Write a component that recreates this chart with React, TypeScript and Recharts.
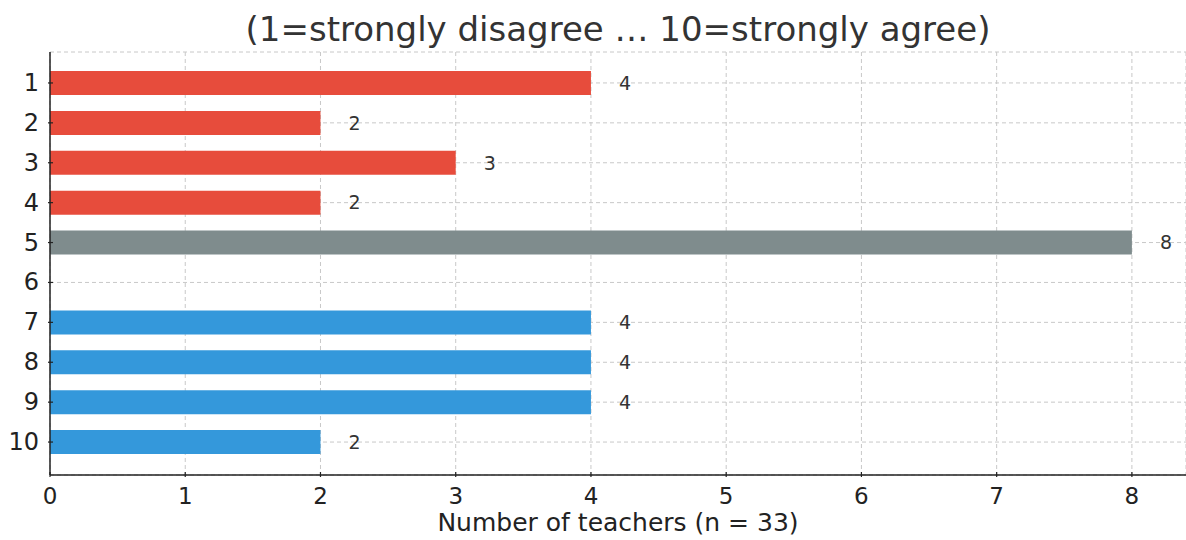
import React from "react";
import {
  BarChart,
  Bar,
  XAxis,
  YAxis,
  CartesianGrid,
  Cell,
  LabelList,
} from "recharts";

// Agreement scale 1..10 and how many teachers picked each point
const scalePoints = ["1", "2", "3", "4", "5", "6", "7", "8", "9", "10"];
const teacherCounts = [4, 2, 3, 2, 8, 0, 4, 4, 4, 2];
const countTicks = [0, 1, 2, 3, 4, 5, 6, 7, 8];

const FONT = "'DejaVu Sans', sans-serif";
const INK = "#222";

const data = scalePoints.map((point, i) => ({
  point,
  count: teacherCounts[i],
}));

// disagree side red, neutral grey, agree side blue
const barColor = (point: string) => {
  const n = Number(point);
  if (n <= 4) return "#e74c3c";
  if (n <= 6) return "#7f8c8d";
  return "#3498db";
};

const YTick = (props: any) => {
  const { x, y, payload } = props;
  return (
    <g>
      <line x1={x} y1={y} x2={x + 5} y2={y} stroke={INK} strokeWidth={1.2} />
      <text
        x={x - 9}
        y={y}
        textAnchor="end"
        dominantBaseline="central"
        fontSize={24}
        fontFamily={FONT}
        fill={INK}
      >
        {payload.value}
      </text>
    </g>
  );
};

const XTick = (props: any) => {
  const { x, y, payload } = props;
  return (
    <g>
      <line x1={x} y1={y} x2={x} y2={y - 5} stroke={INK} strokeWidth={1.2} />
      <text
        x={x}
        y={y + 27}
        textAnchor="middle"
        fontSize={23}
        fontFamily={FONT}
        fill={INK}
      >
        {payload.value}
      </text>
    </g>
  );
};

export default function App() {
  return (
    <div
      style={{
        position: "absolute",
        left: 0,
        top: 0,
        width: 1186,
        height: 540,
        background: "#fff",
        fontFamily: FONT,
      }}
    >
      <div
        style={{
          position: "absolute",
          top: 9,
          left: 50,
          width: 1136,
          textAlign: "center",
          fontSize: 34,
          lineHeight: "40px",
          color: "#333",
        }}
      >
        (1=strongly disagree … 10=strongly agree)
      </div>
      <BarChart
        width={1186}
        height={540}
        data={data}
        layout="vertical"
        margin={{ top: 52, right: 0, bottom: 0, left: 0 }}
        barSize={24}
      >
        <XAxis
          type="number"
          domain={[0, 8.4]}
          ticks={countTicks}
          allowDataOverflow
          tick={<XTick />}
          tickLine={false}
          tickSize={0}
          height={65}
          axisLine={{ stroke: INK, strokeWidth: 1.5 }}
        />
        <YAxis
          type="category"
          dataKey="point"
          width={50}
          padding={{ top: 11, bottom: 13 }}
          tick={<YTick />}
          tickLine={false}
          tickSize={0}
          interval={0}
          axisLine={{ stroke: INK, strokeWidth: 1.5 }}
        />
        <Bar dataKey="count" isAnimationActive={false}>
          {data.map((d) => (
            <Cell key={d.point} fill={barColor(d.point)} />
          ))}
          <LabelList
            dataKey="count"
            position="right"
            offset={28}
            fontSize={19}
            fontFamily={FONT}
            fill="#333"
            formatter={(v: any) => (v === 0 ? "" : v)}
          />
        </Bar>
        <CartesianGrid
          stroke="#c8c8c8"
          strokeDasharray="4 3"
          strokeWidth={1}
        />
      </BarChart>
      <div
        style={{
          position: "absolute",
          top: 508,
          left: 50,
          width: 1136,
          textAlign: "center",
          fontSize: 25,
          lineHeight: "30px",
          color: INK,
        }}
      >
        Number of teachers (n = 33)
      </div>
    </div>
  );
}
